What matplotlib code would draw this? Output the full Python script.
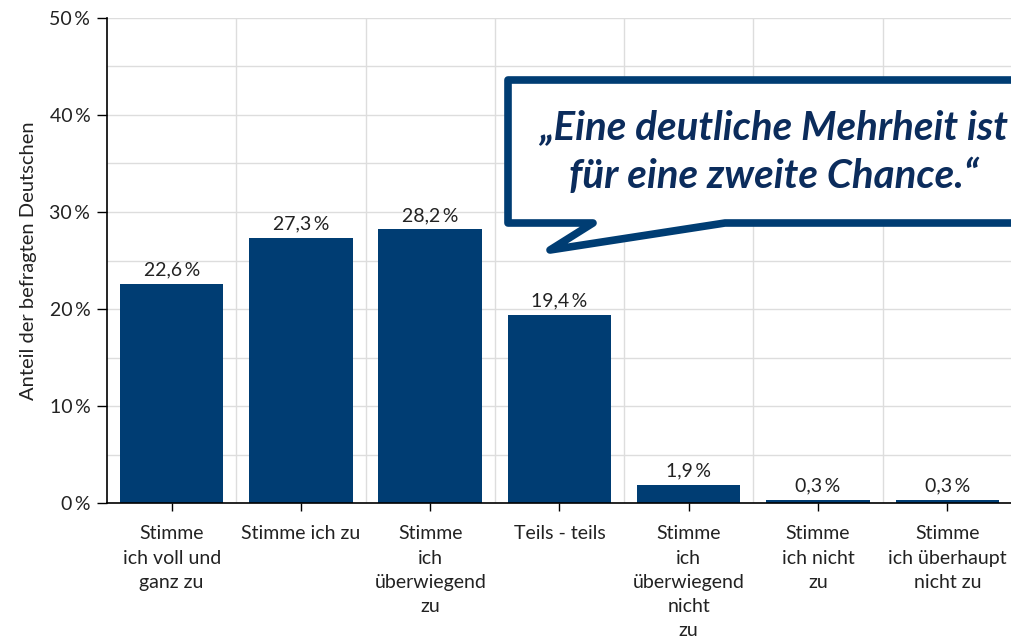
import matplotlib
matplotlib.use("Agg")
import matplotlib.pyplot as plt
from matplotlib.path import Path
from matplotlib.patches import PathPatch
from matplotlib.ticker import MultipleLocator, FuncFormatter

plt.rcParams['font.family'] = ['Lato', 'DejaVu Sans']

kategorien = [
    "Stimme\nich voll und\nganz zu",
    "Stimme ich zu",
    "Stimme\nich\nüberwiegend\nzu",
    "Teils - teils",
    "Stimme\nich\nüberwiegend\nnicht\nzu",
    "Stimme\nich nicht\nzu",
    "Stimme\nich überhaupt\nnicht zu",
]
anteile = [22.6, 27.3, 28.2, 19.4, 1.9, 0.3, 0.3]
y_ticks = [0, 10, 20, 30, 40, 50]
zitat = "„Eine deutliche Mehrheit ist\nfür eine zweite Chance.“"

BLAU = '#003d73'
TEXT = '#222222'

fig = plt.figure(figsize=(10.12, 6.44), dpi=100)
ax = fig.add_axes([107/1012, 141/644, 905/1012, 485/644])

x = range(len(kategorien))
ax.bar(x, anteile, width=0.8, color=BLAU, zorder=3)

for i, v in enumerate(anteile):
    ax.annotate(f"{v:.1f}".replace('.', ',') + "\u2009%", (i, v),
                xytext=(0, 4), textcoords='offset points',
                ha='center', va='bottom', fontsize=14, color=TEXT)

ax.set_xlim(-0.5, len(kategorien) - 0.5)
ax.set_ylim(0, 50)
ax.set_yticks(y_ticks)
ax.yaxis.set_minor_locator(MultipleLocator(5))
ax.yaxis.set_major_formatter(FuncFormatter(lambda v, p: f"{v:.0f}\u2009%"))
ax.set_xticks(list(x))
ax.set_xticklabels(kategorien, fontsize=14, color=TEXT, linespacing=1.52)
ax.set_xticks([i + 0.5 for i in range(len(kategorien) - 1)], minor=True)
ax.tick_params(axis='y', which='major', labelsize=14, labelcolor=TEXT,
               length=7, width=1, pad=5)
ax.tick_params(axis='y', which='minor', length=0)
ax.tick_params(axis='x', which='major', length=6, width=1, pad=10)
ax.tick_params(axis='x', which='minor', length=0)

ax.grid(True, which='both', color='#dddddd', linewidth=1, zorder=0)
ax.grid(False, axis='x', which='major')
for s in ['top', 'right']:
    ax.spines[s].set_visible(False)
for s in ['left', 'bottom']:
    ax.spines[s].set_linewidth(1.2)
    ax.spines[s].set_zorder(4)

ax.set_ylabel("Anteil der befragten Deutschen", fontsize=14.5, color=TEXT, labelpad=9)

# Sprechblase in Pixelkoordinaten (y von oben)
H = 644
pts = [(508, 80), (1030, 80), (1030, 223), (725, 223), (550, 250), (593, 223), (508, 223), (508, 80)]
verts = [(px, H - py) for px, py in pts]
codes = [Path.MOVETO] + [Path.LINETO] * (len(verts) - 2) + [Path.CLOSEPOLY]
blase = PathPatch(Path(verts, codes), transform=None, facecolor='white',
                  edgecolor=BLAU, linewidth=5.5, joinstyle='round', zorder=10)
fig.patches.append(blase)

fig.text(774 / 1012, 1 - 152 / 644, zitat, ha='center', va='center',
         fontsize=29, fontweight='bold', fontstyle='italic', color='#0b2c5c',
         linespacing=1.38, zorder=11)

fig.savefig("out.png", dpi=100)
